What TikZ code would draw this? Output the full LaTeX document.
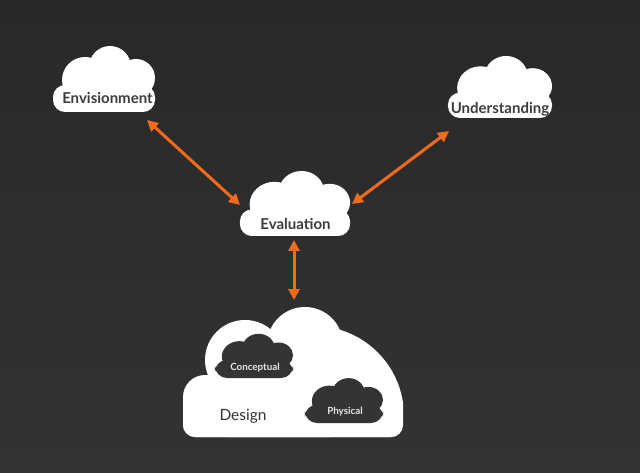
\documentclass[tikz,border=0pt]{standalone}
\usepackage{fontspec}
\setmainfont{Lato}
\usetikzlibrary{arrows.meta}
\definecolor{bgA}{HTML}{282828}
\definecolor{bgB}{HTML}{333333}
\definecolor{inkc}{HTML}{3C3C3C}
\definecolor{darkc}{HTML}{343434}
\definecolor{paleT}{HTML}{E6E6E6}
\definecolor{orng}{HTML}{F26B1D}
\newcommand\cloudfill[5]{%
  \begin{scope}[shift={(#2,#3)},xscale=#4,yscale=#5]
    \fill[#1,rounded corners=12pt] (-51,-27) rectangle (51,0);
    \fill[#1] (-19,-32) circle[radius=23pt];
    \fill[#1] (6,-45) circle[radius=21pt];
    \fill[#1] (32,-34) circle[radius=19pt];
  \end{scope}}
\tikzset{
  lbl/.style={font=\bfseries\fontsize{15}{15}\selectfont, text=inkc, anchor=base, inner sep=0pt},
  designlbl/.style={font=\fontsize{15.5}{15.5}\selectfont, text=darkc, anchor=base, inner sep=0pt},
  smalllbl/.style={font=\bfseries\fontsize{9.8}{9.8}\selectfont, text=paleT, anchor=base, inner sep=0pt},
  link/.style={draw=orng, line width=3pt, {Triangle[length=11pt,width=11pt]}-{Triangle[length=11pt,width=11pt]}}
}
\begin{document}
\begin{tikzpicture}[x=1pt,y=-1pt]
  \useasboundingbox (0,0) rectangle (640,473);
  \shade[top color=bgA, bottom color=bgB] (0,0) rectangle (640,473);
  % small clouds
  \cloudfill{white}{104}{112}{1}{1}
  \cloudfill{white}{500}{118}{1.02}{0.94}
  \cloudfill{white}{295}{236}{1.08}{0.985}
  % design cloud
  \begin{scope}
    \clip[rounded corners=12pt] (183,250) rectangle (403,437);
    \fill[white,rounded corners=22pt] (183,375) rectangle (330,480);
    \fill[white] (183,405) rectangle (403,480);
    \fill[white] (245,360) circle[radius=40pt];
    \fill[white] (305,345) circle[radius=38pt];
    \fill[white] (314,416) circle[radius=90pt];
  \end{scope}
  \cloudfill{darkc}{254}{378}{0.765}{0.67}
  \cloudfill{darkc}{344}{423}{0.765}{0.68}
  % labels
  \node[lbl] (env) at (107.5,103.5) {Envisionment};
  \node[lbl] (und) at (500,114) {Understanding};
  \node[lbl] (eva) at (295.5,230) {Evaluation};
  \node[designlbl] (des) at (243,420) {Design};
  \node[smalllbl] (con) at (255,370) {Conceptual};
  \node[smalllbl] (phy) at (345,414.5) {Physical};
  % arrow ends
  \coordinate (a1) at (147,120);
  \coordinate (a2) at (240,205);
  \coordinate (b1) at (449,131);
  \coordinate (b2) at (352,204);
  \coordinate (c1) at (294,240);
  \coordinate (c2) at (294,300);
  \draw[link] (a1) -- (a2);
  \draw[link] (b1) -- (b2);
  \draw[link] (c1) -- (c2);
\end{tikzpicture}
\end{document}
